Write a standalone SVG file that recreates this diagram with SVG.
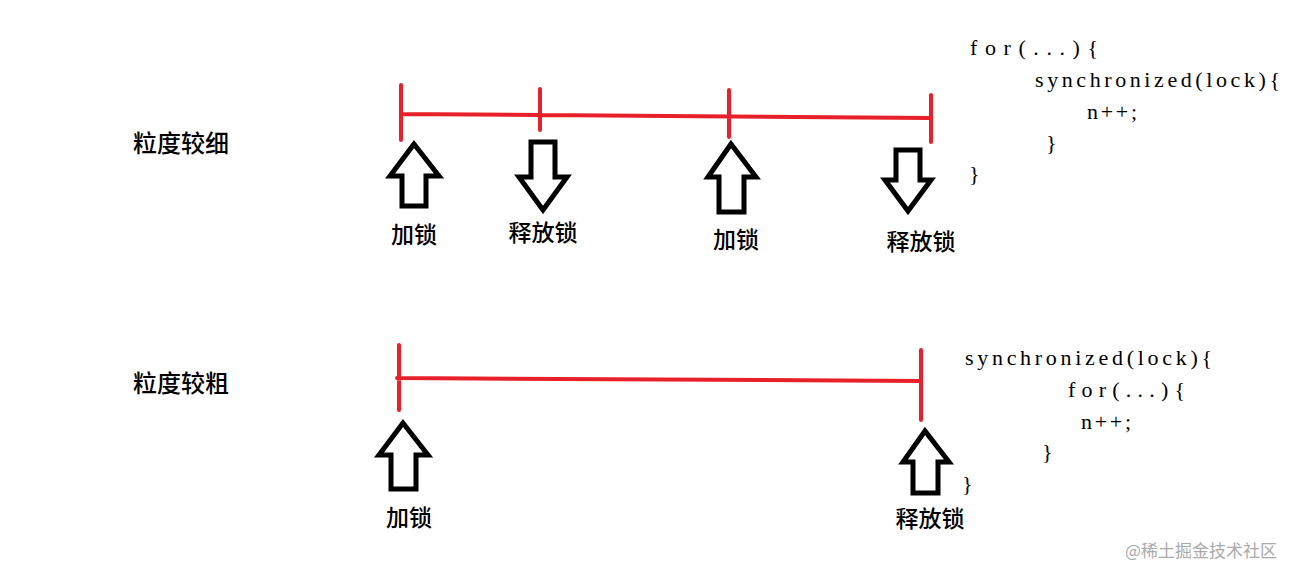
<svg xmlns="http://www.w3.org/2000/svg" width="1305" height="579" viewBox="0 0 1305 579">
<style>
.red{stroke:#e8202a;stroke-width:4;fill:none;stroke-linecap:round}
.arr{fill:#fff;stroke:#000;stroke-width:5;stroke-linejoin:miter}
.lbl{font-family:"Noto Sans CJK SC",sans-serif;font-size:23px;font-weight:500;fill:#000;text-anchor:middle}
.side{font-family:"Noto Sans CJK SC",sans-serif;font-size:24px;font-weight:500;fill:#000}
.code{font-family:"Liberation Serif","Noto Sans CJK SC",serif;font-size:22px;fill:#000}
.wm{font-family:"Noto Sans CJK SC",sans-serif;font-size:17px;fill:#aaa}
</style>
<rect width="1305" height="579" fill="#fff"/>
<g id="connectors">
<path class="red" d="M401 114 L931 118 M401 85 V140 M540 89 V130 M729 90 V137 M931 95 V142"/>
<path class="red" d="M397 378 L921 381 M399 345 V410 M921 350 V420"/>
</g>
<g id="fine-label"><text class="side" x="133" y="152">粒度较细</text></g>
<g id="coarse-label"><text class="side" x="133" y="392">粒度较粗</text></g>
<g id="a1"><polygon class="arr" points="414,144 390,176 402,176 402,206 426,206 426,176 439,176"/><text class="lbl" x="414" y="243">加锁</text></g>
<g id="a2"><polygon class="arr" points="531,142 555,142 555,177 567,177 543,210 519,177 531,177"/><text class="lbl" x="543" y="241">释放锁</text></g>
<g id="a3"><polygon class="arr" points="731,144 708,177 719,177 719,212 744,212 744,177 756,177"/><text class="lbl" x="736" y="248">加锁</text></g>
<g id="a4"><polygon class="arr" points="896,150 920,150 920,180 931,180 908,211 885,180 896,180"/><text class="lbl" x="921" y="250">释放锁</text></g>
<g id="a5"><polygon class="arr" points="403,423 379,455 391,455 391,489 416,489 416,455 428,455"/><text class="lbl" x="409" y="526">加锁</text></g>
<g id="a6"><polygon class="arr" points="925,431 903,462 913,462 913,493 938,493 938,462 949,462"/><text class="lbl" x="930" y="527">释放锁</text></g>
<g id="code-fine">
<text class="code" x="970" y="55" textLength="128" lengthAdjust="spacing">for(...){</text>
<text class="code" x="1035" y="87" textLength="245" lengthAdjust="spacing">synchronized(lock){</text>
<text class="code" x="1087" y="119" textLength="50" lengthAdjust="spacing">n++;</text>
<text class="code" x="1046" y="150">}</text>
<text class="code" x="969" y="181">}</text>
</g>
<g id="code-coarse">
<text class="code" x="965" y="365" textLength="247" lengthAdjust="spacing">synchronized(lock){</text>
<text class="code" x="1068" y="397" textLength="117" lengthAdjust="spacing">for(...){</text>
<text class="code" x="1081" y="429" textLength="50" lengthAdjust="spacing">n++;</text>
<text class="code" x="1042" y="459">}</text>
<text class="code" x="962" y="491">}</text>
</g>
<text class="wm" x="1125" y="557">@稀土掘金技术社区</text>
</svg>
